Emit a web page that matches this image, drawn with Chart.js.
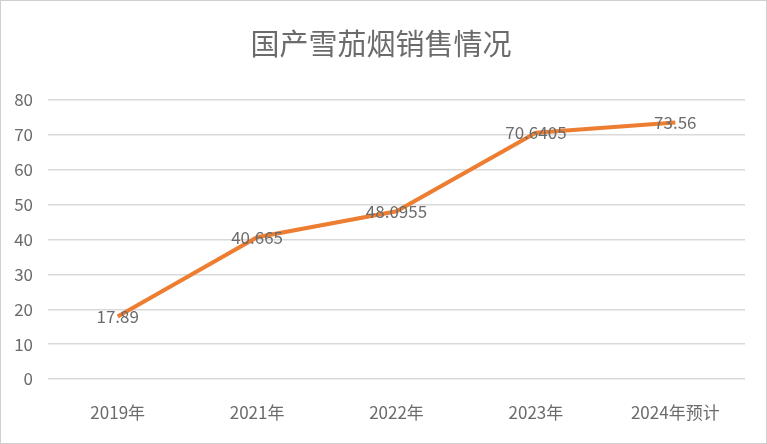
<!DOCTYPE html>
<html>
<head>
<meta charset="utf-8">
<script src="https://cdn.jsdelivr.net/npm/chart.js@4"></script>
<style>
  html, body { margin: 0; padding: 0; background: #fff; }
  #wrap { width: 767px; height: 444px; }
</style>
</head>
<body>
<div id="wrap"><canvas id="salesChart" width="767" height="444"></canvas></div>
<script>
// chart data
const years = ["2019年", "2021年", "2022年", "2023年", "2024年预计"];
const sales = [17.89, 40.665, 48.0955, 70.6405, 73.56];
const yTicks = [0, 10, 20, 30, 40, 50, 60, 70, 80];
const chartTitle = "国产雪茄烟销售情况";

const textGray = "#6b6b6b";
const fontFamily = "'Noto Sans CJK SC', 'Noto Sans', sans-serif";

// white background, thin frame and the title
const frame = {
    id: "frame",
    beforeDraw(chart) {
        const ctx = chart.ctx;
        ctx.save();
        ctx.fillStyle = "#fff";
        ctx.fillRect(0, 0, chart.width, chart.height);
        ctx.strokeStyle = "#d0d0d0";
        ctx.lineWidth = 1;
        ctx.strokeRect(0.5, 0.5, chart.width - 1, chart.height - 1);
        ctx.font = "29px " + fontFamily;
        ctx.fillStyle = textGray;
        ctx.textAlign = "center";
        ctx.textBaseline = "middle";
        ctx.fillText(chartTitle, 381, 44);
        ctx.restore();
    }
};

// value labels drawn on the points
const valueLabels = {
    id: "valueLabels",
    afterDatasetsDraw(chart) {
        const ctx = chart.ctx;
        const meta = chart.getDatasetMeta(0);
        ctx.save();
        ctx.font = "17px " + fontFamily;
        ctx.fillStyle = textGray;
        ctx.textAlign = "center";
        ctx.textBaseline = "middle";
        meta.data.forEach((pt, i) => {
            ctx.fillText(String(sales[i]), pt.x, pt.y);
        });
        ctx.restore();
    }
};

new Chart(document.getElementById("salesChart"), {
    type: "line",
    data: {
        labels: years,
        datasets: [{
            label: chartTitle,
            data: sales,
            borderColor: "#ED7D31",
            backgroundColor: "#ED7D31",
            borderWidth: 4,
            pointRadius: 0,
            tension: 0
        }]
    },
    options: {
        responsive: false,
        animation: false,
        layout: { padding: { left: 0, right: 22, top: 100, bottom: 0 } },
        plugins: {
            legend: { display: false },
            tooltip: { enabled: false },
            title: { display: false }
        },
        scales: {
            x: {
                offset: true,
                grid: { display: false },
                border: { display: false },
                ticks: {
                    color: textGray,
                    padding: 15,
                    maxRotation: 0,
                    font: { family: fontFamily, size: 17 }
                },
                afterFit(scale) { scale.height = 65; }
            },
            y: {
                min: 0,
                max: 80,
                afterBuildTicks(scale) {
                    scale.ticks = yTicks.map(v => ({ value: v }));
                },
                grid: { color: "#d9d9d9", lineWidth: 1.5, drawTicks: false },
                border: { display: false },
                ticks: {
                    color: textGray,
                    padding: 15,
                    font: { family: fontFamily, size: 17 }
                },
                afterFit(scale) { scale.width = 48; }
            }
        }
    },
    plugins: [frame, valueLabels]
});
</script>
</body>
</html>
